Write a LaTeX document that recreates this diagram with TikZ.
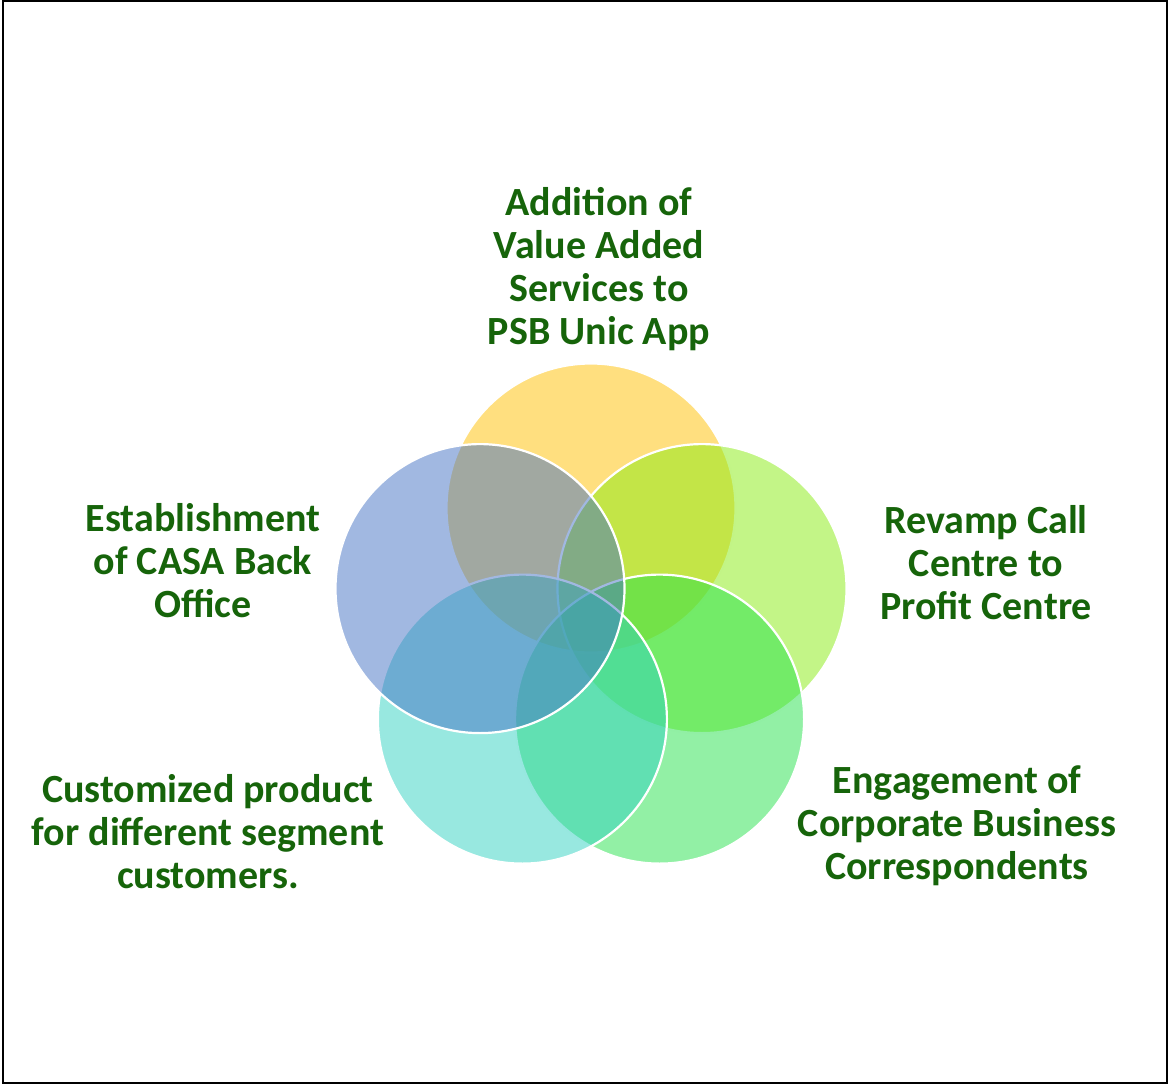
\documentclass[tikz,border=0pt]{standalone}
\usepackage{fontspec}
\setmainfont{Carlito}
\definecolor{txtgreen}{RGB}{22,100,10}
\definecolor{cyellow}{RGB}{255,192,0}
\definecolor{clime}{RGB}{135,235,15}
\definecolor{cgreen}{RGB}{37,225,75}
\definecolor{ccyan}{RGB}{49,209,193}
\definecolor{cblue}{RGB}{68,114,196}
\tikzset{
  venn/.style={circle, minimum size=289pt, inner sep=0pt, draw=white, line width=2.2pt, fill opacity=0.5},
  lbl/.style={align=center, text=txtgreen, inner sep=0pt, font=\fontsize{40}{43}\selectfont\bfseries}
}
\begin{document}
\begin{tikzpicture}[x=1pt,y=-1pt]
\useasboundingbox (0,0) rectangle (1170,1086);
\draw[line width=2pt] (3,1.5) rectangle (1167,1082.5);
\node[venn, fill=cyellow] (top) at (591,508) {};
\node[venn, fill=clime] (right) at (702,588.6) {};
\node[venn, fill=cgreen] (bright) at (659.6,719.1) {};
\node[venn, fill=ccyan] (bleft) at (522.4,719.1) {};
\node[venn, fill=cblue] (left) at (480,588.6) {};
\node[lbl] (ttop) at (599,269) {Addition of\\Value Added\\Services to\\PSB Unic App};
\node[lbl] (tleft) at (203,561) {Establishment\\of CASA Back\\Office};
\node[lbl] (tright) at (986,563) {Revamp Call\\Centre to\\Profit Centre};
\node[lbl] (tbright) at (957,826) {Engagement of\\Corporate Business\\Correspondents};
\node[lbl] (tbleft) at (208,831.5) {Customized product\\for different segment\\customers.};
\end{tikzpicture}
\end{document}
